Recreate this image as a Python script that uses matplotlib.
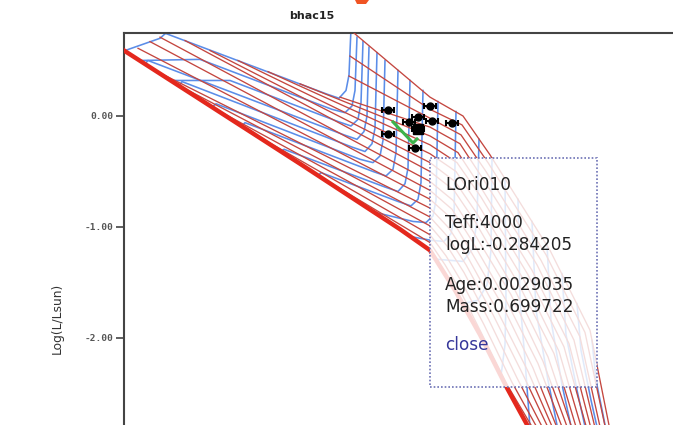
import matplotlib
matplotlib.use("Agg")
import matplotlib.pyplot as plt
from matplotlib.patches import Rectangle, Polygon

# ---------------- data (Teff [K], log L/Lsun) ----------------
title = "bhac15"
ylabel = "Log(L/Lsun)"
ytick_vals = [0.0, -1.0, -2.0]
ytick_labels = ["0.00", "-1.00", "-2.00"]

zams_teff = [5800, 5746, 5290, 4690, 4090, 3910, 3760, 3610, 3448, 3310]
zams_logl = [0.65, 0.59, 0.15, -0.43, -1.02, -1.21, -1.57, -1.97, -2.45, -2.83]

iso_teff = [
    [4384, 3910, 3712, 3550, 3190, 2950, 2818],
    [4390, 3910, 3718, 3562, 3214, 2980, 2842],
    [4396, 3910, 3724, 3574, 3244, 3010, 2872],
    [4450, 3910, 3730, 3586, 3268, 3046, 2902],
    [4690, 3910, 3742, 3598, 3298, 3076, 2926],
    [4882, 3910, 3748, 3604, 3322, 3106, 2950],
    [5062, 3910, 3754, 3616, 3346, 3136, 2980],
    [5230, 3910, 3760, 3628, 3376, 3166, 3010],
    [5380, 3910, 3766, 3640, 3400, 3202, 3034],
    [5530, 3910, 3772, 3652, 3424, 3232, 3058],
    [5590, 3910, 3778, 3664, 3454, 3262, 3088],
    [5662, 3910, 3784, 3676, 3478, 3292, 3118],
    [5560, 3910, 3796, 3688, 3508, 3322, 3142],
    [5410, 3910, 3802, 3694, 3532, 3352, 3166],
    [5230, 3910, 3808, 3706, 3556, 3388, 3196],
    [4990, 3910, 3814, 3718, 3586, 3418, 3226],
    [4720, 3910, 3820, 3730, 3610, 3448, 3250],
]
iso_logl = [
    [0.77, 0.17, 0.00, -0.35, -1.21, -1.93, -2.92],
    [0.54, 0.06, -0.08, -0.42, -1.25, -1.95, -2.92],
    [0.36, -0.02, -0.17, -0.50, -1.30, -1.99, -2.92],
    [0.17, -0.10, -0.25, -0.58, -1.34, -2.02, -2.92],
    [0.29, -0.18, -0.33, -0.66, -1.39, -2.05, -2.92],
    [0.40, -0.26, -0.42, -0.73, -1.43, -2.08, -2.92],
    [0.50, -0.34, -0.50, -0.81, -1.48, -2.12, -2.92],
    [0.59, -0.42, -0.59, -0.88, -1.52, -2.14, -2.92],
    [0.68, -0.50, -0.67, -0.95, -1.57, -2.17, -2.92],
    [0.71, -0.59, -0.76, -1.04, -1.61, -2.21, -2.92],
    [0.67, -0.67, -0.84, -1.11, -1.66, -2.23, -2.92],
    [0.61, -0.75, -0.92, -1.19, -1.70, -2.27, -2.92],
    [0.41, -0.83, -1.01, -1.26, -1.75, -2.30, -2.92],
    [0.27, -0.91, -1.09, -1.34, -1.79, -2.33, -2.92],
    [0.09, -0.99, -1.17, -1.41, -1.84, -2.36, -2.92],
    [-0.14, -1.07, -1.26, -1.50, -1.88, -2.40, -2.92],
    [-0.41, -1.14, -1.34, -1.57, -1.93, -2.42, -2.92],
]

track_teff = [
    [5758, 5530, 5500],
    [4384, 4396, 4414, 4456, 4534, 5578],
    [4348, 4360, 4378, 4420, 4498, 5290, 5650],
    [4312, 4324, 4342, 4384, 4462, 5110, 5458],
    [4276, 4288, 4306, 4348, 4426, 5602, 5620],
    [4228, 4240, 4258, 4300, 4378, 5398, 5416],
    [4180, 4192, 4210, 4252, 4330, 5194, 5218],
    [4102, 4114, 4132, 4174, 4252, 5020, 5038],
    [4030, 4042, 4060, 4102, 4180, 4786, 4804],
    [3952, 3964, 3982, 4024, 4102, 4564, 4582],
    [3862, 3874, 3892, 3934, 4012, 4234],
    [3754, 3766, 3784, 3826, 3904, 4012],
    [3616, 3628, 3652, 3712, 3874],
    [3538, 3544, 3568, 3622, 3712],
    [3460, 3454, 3460, 3484],
    [3382, 3370, 3340, 3310],
    [3298, 3274, 3202, 3130],
    [3208, 3184, 3118, 3046],
    [3118, 3094, 3028, 2962],
    [3028, 3004, 2944, 2890],
    [2938, 2914, 2872, 2842],
]
track_logl = [
    [0.58, 0.70, 0.74],
    [0.79, 0.37, 0.23, 0.16, 0.20, 0.79],
    [0.71, 0.23, 0.09, 0.03, 0.06, 0.51, 0.50],
    [0.67, 0.12, -0.03, -0.09, -0.05, 0.32, 0.32],
    [0.62, 0.00, -0.14, -0.21, -0.17, 0.50, 0.47],
    [0.57, -0.11, -0.25, -0.32, -0.28, 0.31, 0.27],
    [0.50, -0.22, -0.36, -0.42, -0.39, 0.11, 0.08],
    [0.41, -0.33, -0.48, -0.54, -0.50, -0.06, -0.09],
    [0.32, -0.47, -0.61, -0.68, -0.64, -0.30, -0.32],
    [0.23, -0.60, -0.75, -0.81, -0.77, -0.51, -0.54],
    [0.13, -0.76, -0.90, -0.96, -0.95, -0.87],
    [0.04, -0.92, -1.06, -1.13, -1.12, -1.09],
    [-0.21, -0.94, -1.19, -1.31, -1.29],
    [-0.38, -1.21, -1.52, -1.66, -1.69],
    [-0.57, -1.66, -2.06, -2.34],
    [-0.75, -1.66, -2.20, -2.81],
    [-0.95, -1.75, -2.38, -2.92],
    [-1.16, -1.84, -2.42, -2.92],
    [-1.42, -1.97, -2.47, -2.92],
    [-1.69, -2.11, -2.56, -2.92],
    [-2.02, -2.38, -2.69, -2.92],
]

star_teff = [4162, 3910, 3982, 4036, 3898, 3778, 4162, 4000]
star_logl = [0.054, 0.090, -0.009, -0.054, -0.045, -0.063, -0.162, -0.284]
star_err = [35, 35, 35, 35, 35, 35, 35, 35]
sel_teff = [3982]
sel_logl = [-0.117]

green_teff = [4132, 4012, 3988]
green_logl = [-0.054, -0.243, -0.207]

popup_name = "LOri010"
popup_teff = "Teff:4000"
popup_logl = "logL:-0.284205"
popup_age = "Age:0.0029035"
popup_mass = "Mass:0.699722"
popup_close = "close"

# ---------------- figure ----------------
W, H = 673, 425
fig = plt.figure(figsize=(W / 100, H / 100), dpi=100)
ax = fig.add_axes([124 / W, 0.0, 549 / W, 1 - 33 / H])
ax.set_xlim(5746, 2452)
ax.set_ylim(-2.7838, 0.7477)

for t, l in zip(track_teff, track_logl):
    ax.plot(t, l, color="#5b8de8", lw=1.15, zorder=2, solid_joinstyle="round")
for t, l in zip(iso_teff, iso_logl):
    ax.plot(t, l, color="#c4463f", lw=0.95, zorder=3, solid_joinstyle="round")
ax.plot(zams_teff, zams_logl, color="#e4281d", lw=3.2, zorder=4,
        solid_capstyle="round")

ax.plot(green_teff, green_logl, color="#3db34a", lw=2.2, zorder=5)
ax.errorbar(star_teff, star_logl, xerr=star_err, fmt="o", color="black",
            ms=5, elinewidth=1.5, capsize=2.5, capthick=1.5, zorder=6)
ax.errorbar(sel_teff, sel_logl, xerr=[35], fmt="s", color="black",
            ms=6.5, elinewidth=1.5, capsize=2.5, capthick=1.5, zorder=6)

for side in ["right", "bottom"]:
    ax.spines[side].set_visible(False)
for side in ["top", "left"]:
    ax.spines[side].set_color("#444444")
    ax.spines[side].set_linewidth(1.5)
ax.set_xticks([])
ax.set_yticks(ytick_vals)
ax.set_yticklabels(ytick_labels, family="DejaVu Sans Mono", fontweight="bold",
                   fontsize=6.8, color="#555555")
ax.tick_params(axis="y", length=6, width=1.2, color="#444444", pad=2)

fig.text(312 / W, 1 - 16 / H, title, ha="center", va="center",
         fontsize=8, fontweight="bold", color="#222222")
fig.text(57 / W, 1 - 318 / H, ylabel, rotation=90, ha="center", va="center",
         fontsize=8.8, color="#333333")

# small clipped orange element at the top edge
fig.add_artist(Polygon([[355 / W, 1.0], [369 / W, 1.0], [366 / W, 1 - 4 / H],
                        [357 / W, 1 - 4 / H]], closed=True,
                       transform=fig.transFigure, facecolor="#f05423",
                       edgecolor="none"))

# popup box
px0, py0, px1, py1 = 430, 158, 597, 387
fig.add_artist(Rectangle((px0 / W, 1 - py1 / H), (px1 - px0) / W, (py1 - py0) / H,
                         transform=fig.transFigure, facecolor="white",
                         alpha=0.82, edgecolor="none", zorder=10))
fig.add_artist(Rectangle((px0 / W, 1 - py1 / H), (px1 - px0) / W, (py1 - py0) / H,
                         transform=fig.transFigure, facecolor="none",
                         edgecolor="#6d72b5", lw=1.2, linestyle=(0, (1, 1.2)),
                         zorder=11))
lines = [(popup_name, 185, "#222222"), (popup_teff, 223, "#222222"),
         (popup_logl, 245, "#222222"), (popup_age, 285, "#222222"),
         (popup_mass, 307, "#222222"), (popup_close, 345, "#36379a")]
for txt, yy, col in lines:
    fig.text(445 / W, 1 - yy / H, txt, ha="left", va="center", fontsize=12.2,
             color=col, zorder=12)

fig.savefig("out.png", dpi=100)
